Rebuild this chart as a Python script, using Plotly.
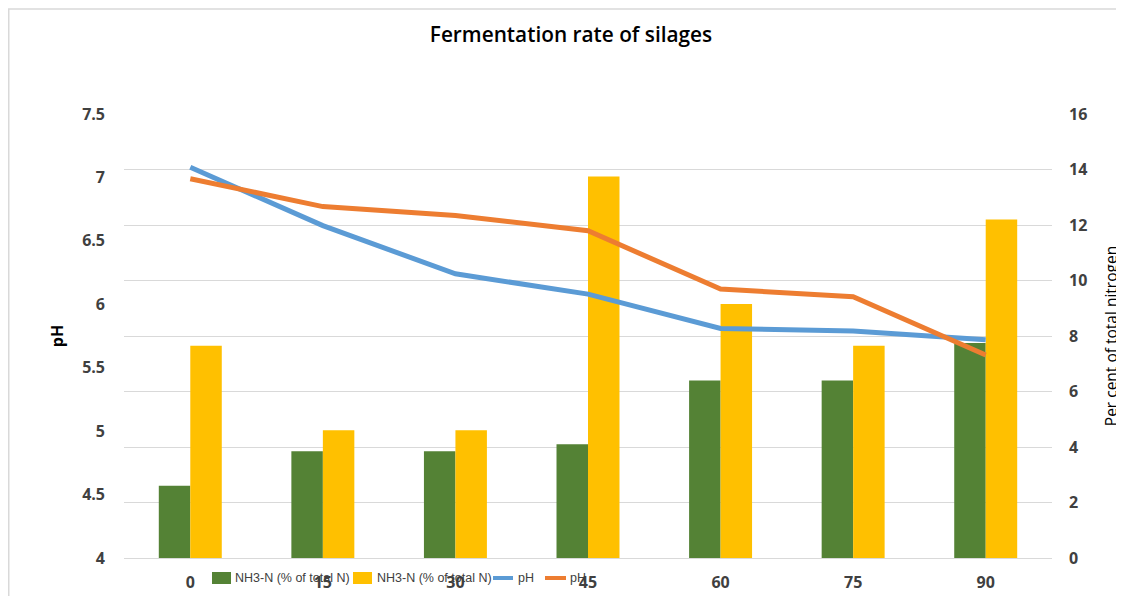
import plotly.graph_objects as go

days = ["0", "15", "30", "45", "60", "75", "90"]
nh3_green = [2.6, 3.85, 3.85, 4.1, 6.4, 6.4, 7.75]      # % of total N
nh3_yellow = [7.65, 4.6, 4.6, 13.75, 9.15, 7.65, 12.2]  # % of total N
ph_blue = [7.08, 6.62, 6.24, 6.08, 5.81, 5.79, 5.72]
ph_orange = [6.99, 6.77, 6.70, 6.58, 6.12, 6.06, 5.60]

series_names = ["NH3-N (% of total N)", "NH3-N (% of total N)", "pH", "pH"]
series_colors = ["#548235", "#FFC000", "#5B9BD5", "#ED7D31"]

# page body has an 8px margin, so the figure is 8px smaller than the window
W, H = 1116, 588
L, R, T, B = 116, 72, 106, 38
pw, ph = W - L - R, H - T - B

FONT = "Open Sans"
LEGFONT = "Liberation Sans"
TICKC = "#404040"

fig = go.Figure()
fig.add_trace(go.Bar(x=days, y=nh3_green, name=series_names[0],
                     marker=dict(color=series_colors[0], line=dict(width=0)), yaxis="y"))
fig.add_trace(go.Bar(x=days, y=nh3_yellow, name=series_names[1],
                     marker=dict(color=series_colors[1], line=dict(width=0)), yaxis="y"))
fig.add_trace(go.Scatter(x=days, y=ph_blue, name=series_names[2], mode="lines",
                         line=dict(color=series_colors[2], width=5), yaxis="y2"))
fig.add_trace(go.Scatter(x=days, y=ph_orange, name=series_names[3], mode="lines",
                         line=dict(color=series_colors[3], width=5), yaxis="y2"))

def px2x(p):
    return (p - L) / pw

def px2y(p):
    return (H - B - p) / ph

fig.update_layout(
    width=W, height=H,
    margin=dict(l=L, r=R, t=T, b=B, autoexpand=False),
    paper_bgcolor="white", plot_bgcolor="white",
    barmode="group", bargap=0.525, bargroupgap=0,
    showlegend=False,
    title=dict(text="Fermentation rate of silages", x=563 / W, xanchor="center",
               y=1 - 27 / H, yanchor="middle",
               font=dict(family=FONT, size=20.8, color="#000000", weight=600)),
    xaxis=dict(type="category", showgrid=False, showline=True, linecolor="#d9d9d9",
               linewidth=1, ticks="", ticklabelstandoff=10, automargin=False,
               tickfont=dict(family=FONT, size=16, color=TICKC, weight="bold")),
    yaxis=dict(side="right", range=[0, 16], dtick=2, showgrid=True, automargin=False,
               gridcolor="#d9d9d9", gridwidth=1, zeroline=False, ticks="",
               ticklabelstandoff=16,
               tickfont=dict(family=FONT, size=16, color=TICKC, weight="bold"),
               title=dict(text="Per cent of total nitrogen", standoff=19,
                          font=dict(family=FONT, size=15.5, color="#000000"))),
    yaxis2=dict(side="left", overlaying="y", range=[4, 7.5], dtick=0.5, automargin=False,
                showgrid=False, zeroline=False, ticks="", ticklabelstandoff=18,
                tickvals=[4, 4.5, 5, 5.5, 6, 6.5, 7, 7.5],
                ticktext=["4", "4.5", "5", "5.5", "6", "6.5", "7", "7.5"],
                tickfont=dict(family=FONT, size=16, color=TICKC, weight="bold"),
                title=dict(text="pH", standoff=14,
                           font=dict(family=FONT, size=16, color="#000000", weight="bold"))),
)

# chart-area border
fig.add_shape(type="rect", xref="paper", yref="paper",
              x0=px2x(0.75), x1=px2x(1130), y0=px2y(620), y1=px2y(1),
              line=dict(color="#d9d9d9", width=1.5), fillcolor="rgba(0,0,0,0)", layer="below")

# legend (figure pixels)
leg_y = 570
legend_items = [
    ("rect", 204, 223, 225),
    ("rect", 345, 364, 367),
    ("line", 485, 505, 508),
    ("line", 537, 558, 560),
]
for (kind, x0, x1, tx), name, col in zip(legend_items, series_names, series_colors):
    if kind == "rect":
        fig.add_shape(type="rect", xref="paper", yref="paper",
                      x0=px2x(x0), x1=px2x(x1), y0=px2y(leg_y + 6), y1=px2y(leg_y - 6),
                      line=dict(width=0), fillcolor=col)
    else:
        fig.add_shape(type="line", xref="paper", yref="paper",
                      x0=px2x(x0), x1=px2x(x1), y0=px2y(leg_y), y1=px2y(leg_y),
                      line=dict(width=4, color=col))
    fig.add_annotation(text=name, xref="paper", yref="paper", x=px2x(tx), y=px2y(leg_y),
                       xanchor="left", yanchor="middle", showarrow=False,
                       font=dict(family=LEGFONT, size=12.5, color="#404040"))

fig.write_html("out.html")
